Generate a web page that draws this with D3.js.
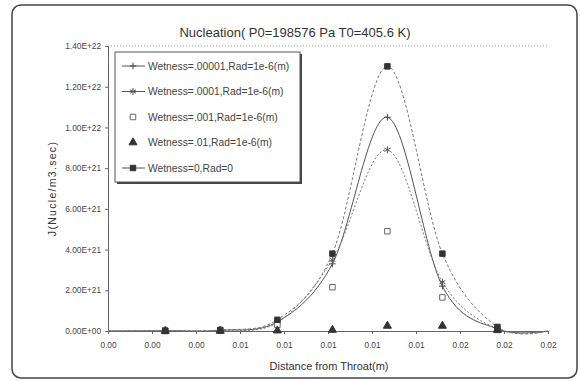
<!DOCTYPE html>
<html>
<head>
<meta charset="utf-8">
<script src="https://cdn.jsdelivr.net/npm/d3@7"></script>
<style>
  body { margin: 0; background: #fff; }
  svg { font-family: "Liberation Sans", Arial, sans-serif; }
</style>
</head>
<body>
<div id="chart"></div>
<script>
// distance from throat (m)
const distance = [0, 0.0026, 0.0051, 0.0077, 0.0102, 0.0127, 0.0152, 0.0177, 0.02];

// nucleation rate J (Nucle/m3.sec)
const wet00001 = [0, 0.01e21, 0.03e21, 0.45e21, 3.3e21, 10.5e21, 2.2e21, 0.1e21, 0];
const wet0001  = [0, 0.01e21, 0.03e21, 0.42e21, 3.5e21, 8.9e21, 2.4e21, 0.1e21, 0];
const wet001   = [0, 0.0, 0.02e21, 0.3e21, 2.15e21, 4.9e21, 1.65e21, 0.05e21, 0];
const wet01    = [0, 0, 0, 0.02e21, 0.05e21, 0.25e21, 0.25e21, 0.05e21, 0];
const wet0     = [0, 0.02e21, 0.05e21, 0.55e21, 3.8e21, 13.0e21, 3.8e21, 0.2e21, 0];

const seriesNames = [
  "Wetness=.00001,Rad=1e-6(m)",
  "Wetness=.0001,Rad=1e-6(m)",
  "Wetness=.001,Rad=1e-6(m)",
  "Wetness=.01,Rad=1e-6(m)",
  "Wetness=0,Rad=0"
];

const xTicks = [0, 0.002, 0.004, 0.006, 0.008, 0.010, 0.012, 0.014, 0.016, 0.018, 0.020];
const yTicks = [0, 2e21, 4e21, 6e21, 8e21, 1e22, 1.2e22, 1.4e22];

const width = 580, height = 381;
const margin = {top: 46, right: 32, bottom: 50, left: 108};

const svg = d3.select("#chart").append("svg")
  .attr("width", width)
  .attr("height", height);

// outer chart frame
svg.append("rect")
  .attr("x", 12).attr("y", 5)
  .attr("width", 565).attr("height", 373)
  .attr("rx", 9)
  .attr("fill", "#fff")
  .attr("stroke", "#444")
  .attr("stroke-width", 1.5);

const xScale = d3.scaleLinear()
  .domain([0, 0.02])
  .range([margin.left, width - margin.right]);

const yScale = d3.scaleLinear()
  .domain([0, 1.4e22])
  .range([height - margin.bottom, margin.top]);

// top gridline
svg.append("line")
  .attr("x1", xScale(0)).attr("x2", xScale(0.02))
  .attr("y1", yScale(1.4e22)).attr("y2", yScale(1.4e22))
  .attr("stroke", "#999")
  .attr("stroke-dasharray", "1,2");

// exponent format like 1.40E+22
const expFormat = v => {
  const s = v.toExponential(2).toUpperCase();
  return s.replace(/E([+-])(\d)$/, "E$10$2");
};

const yAxis = svg.append("g")
  .attr("transform", "translate(" + margin.left + ",0)")
  .call(d3.axisLeft(yScale).tickValues(yTicks).tickFormat(expFormat).tickSize(3).tickPadding(4));

const xAxis = svg.append("g")
  .attr("transform", "translate(0," + (height - margin.bottom) + ")")
  .call(d3.axisBottom(xScale).tickValues(xTicks).tickFormat(d3.format(".2f")).tickSize(3).tickPadding(8));

[yAxis, xAxis].forEach(a => {
  a.selectAll("path, line").attr("stroke", "#666");
  a.selectAll("text").attr("fill", "#444").attr("font-size", 8.3);
});

// titles
svg.append("text")
  .attr("x", 295).attr("y", 37)
  .attr("text-anchor", "middle")
  .attr("font-size", 13)
  .attr("fill", "#333")
  .text("Nucleation( P0=198576 Pa T0=405.6 K)");

svg.append("text")
  .attr("x", 329).attr("y", 370)
  .attr("text-anchor", "middle")
  .attr("font-size", 11)
  .attr("fill", "#333")
  .text("Distance from Throat(m)");

svg.append("text")
  .attr("transform", "translate(56," + yScale(0.7e22) + ") rotate(-90)")
  .attr("text-anchor", "middle")
  .attr("font-size", 10.5)
  .attr("letter-spacing", 1.3)
  .attr("fill", "#333")
  .text("J(Nucle/m3.sec)");

// series definitions
const series = [
  {name: seriesNames[0], values: wet00001, line: true, dash: null, stroke: "#555", symbol: d3.symbolPlus, size: 16, fill: "none", mstroke: "#444"},
  {name: seriesNames[1], values: wet0001, line: true, dash: "2,2", stroke: "#777", symbol: d3.symbolAsterisk, size: 34, fill: "none", mstroke: "#555"},
  {name: seriesNames[2], values: wet001, line: false, symbol: d3.symbolSquare, size: 30, fill: "#fff", mstroke: "#666"},
  {name: seriesNames[3], values: wet01, line: false, symbol: d3.symbolTriangle, size: 28, fill: "#333", mstroke: "#333"},
  {name: seriesNames[4], values: wet0, line: true, dash: "3,2", stroke: "#777", symbol: d3.symbolSquare, size: 30, fill: "#333", mstroke: "#333"}
];

const line = d3.line()
  .x(d => xScale(d[0]))
  .y(d => yScale(d[1]))
  .curve(d3.curveCatmullRom.alpha(0));

const plot = svg.append("g");

series.filter(s => s.line).forEach(s => {
  plot.append("path")
    .datum(distance.map((x, i) => [x, s.values[i]]))
    .attr("fill", "none")
    .attr("stroke", s.stroke)
    .attr("stroke-width", 1)
    .attr("stroke-dasharray", s.dash)
    .attr("d", line);
});

// markers (end points at 0 and 0.02 are plotted without markers)
series.forEach(s => {
  const pts = distance.map((x, i) => [x, s.values[i]]).slice(1, -1);
  plot.selectAll(null)
    .data(pts)
    .enter()
    .append("path")
    .attr("transform", d => "translate(" + xScale(d[0]) + "," + yScale(d[1]) + ")")
    .attr("d", d3.symbol().type(s.symbol).size(s.size))
    .attr("fill", s.fill)
    .attr("stroke", s.mstroke)
    .attr("stroke-width", 1);
});

// legend
const lg = svg.append("g").attr("transform", "translate(115,52)");
lg.append("rect")
  .attr("x", 2).attr("y", 2)
  .attr("width", 185).attr("height", 130)
  .attr("fill", "#444");
lg.append("rect")
  .attr("width", 185).attr("height", 130)
  .attr("fill", "#fff")
  .attr("stroke", "#555");

series.forEach((s, i) => {
  const y = 14 + i * 25.5;
  if (s.line) {
    lg.append("line")
      .attr("x1", 7).attr("x2", 30)
      .attr("y1", y).attr("y2", y)
      .attr("stroke", "#555")
      .attr("stroke-width", 1);
  }
  lg.append("path")
    .attr("transform", "translate(18," + y + ")")
    .attr("d", d3.symbol().type(s.symbol).size(s.size))
    .attr("fill", s.fill)
    .attr("stroke", s.mstroke);
  lg.append("text")
    .attr("x", 33).attr("y", y + 3.5)
    .attr("font-size", 10.3)
    .attr("fill", "#444")
    .text(s.name);
});
</script>
</body>
</html>
